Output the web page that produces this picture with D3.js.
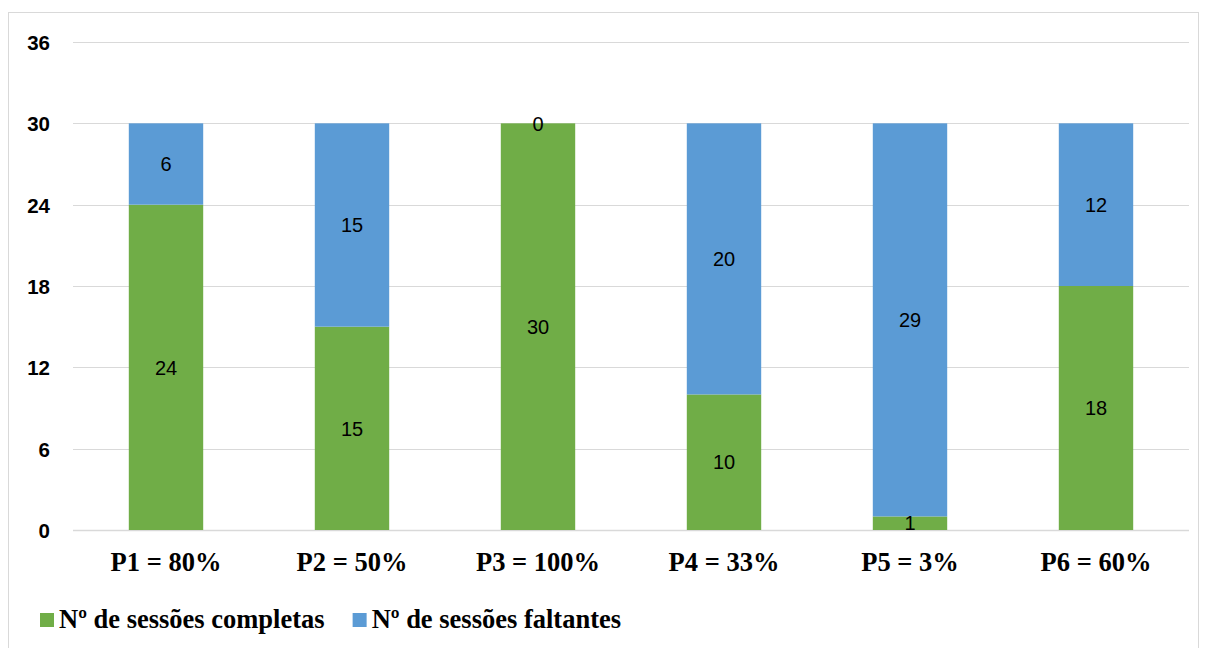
<!DOCTYPE html>
<html>
<head>
<meta charset="utf-8">
<script src="https://cdn.jsdelivr.net/npm/d3@7"></script>
<style>
  html, body { margin: 0; padding: 0; background: #fff; }
  svg { display: block; }
</style>
</head>
<body>
<svg id="chart" width="1206" height="648"></svg>
<script>
// Participants and their completion rates
const categories = ["P1 = 80%", "P2 = 50%", "P3 = 100%", "P4 = 33%", "P5 = 3%", "P6 = 60%"];
// Sessions completed / sessions missing (out of 30)
const completas = [24, 15, 30, 10, 1, 18];
const faltantes = [6, 15, 0, 20, 29, 12];
const yTicks = [0, 6, 12, 18, 24, 30, 36];
const seriesNames = ["Nº de sessões completas", "Nº de sessões faltantes"];
const seriesColors = ["#70AD47", "#5B9BD5"];

const svg = d3.select("#chart");
const plot = { left: 73, right: 1189, top: 42, bottom: 530 };

// Outer chart frame
svg.append("rect")
  .attr("x", 8.5).attr("y", 12.5)
  .attr("width", 1190).attr("height", 640)
  .attr("fill", "#fff").attr("stroke", "#D9D9D9").attr("stroke-width", 1);

const x = d3.scaleBand()
  .domain(categories)
  .range([plot.left, plot.right])
  .paddingInner(0.6)
  .paddingOuter(0.3);

const y = d3.scaleLinear()
  .domain([0, 36])
  .range([plot.bottom, plot.top]);

// Horizontal gridlines
svg.append("g")
  .selectAll("line")
  .data(yTicks)
  .join("line")
  .attr("x1", plot.left).attr("x2", plot.right)
  .attr("y1", d => Math.round(y(d)) + 0.5)
  .attr("y2", d => Math.round(y(d)) + 0.5)
  .attr("stroke", "#D9D9D9").attr("stroke-width", d => d === 0 ? 1.5 : 1.2);

// Y-axis labels
const yAxis = d3.axisLeft(y).tickValues(yTicks).tickSize(0).tickPadding(0);
const gy = svg.append("g")
  .attr("transform", `translate(50,0)`)
  .call(yAxis);
gy.select(".domain").remove();
gy.selectAll("text")
  .attr("font-family", "'Liberation Sans', Arial, sans-serif")
  .attr("font-weight", "bold")
  .attr("font-size", 20.5)
  .attr("fill", "#000")
  .attr("dy", "0.36em");

// Stack the two series
const rows = categories.map((c, i) => ({ cat: c, completas: completas[i], faltantes: faltantes[i] }));
const stack = d3.stack().keys(["completas", "faltantes"]);
const layers = stack(rows);

const gBars = svg.append("g");
layers.forEach((layer, li) => {
  gBars.append("g")
    .selectAll("rect")
    .data(layer)
    .join("rect")
    .attr("x", d => x(d.data.cat))
    .attr("width", x.bandwidth())
    .attr("y", d => y(d[1]))
    .attr("height", d => y(d[0]) - y(d[1]))
    .attr("fill", seriesColors[li]);
});

// Value labels centred in each segment
layers.forEach((layer, li) => {
  gBars.append("g")
    .selectAll("text")
    .data(layer)
    .join("text")
    .attr("x", d => x(d.data.cat) + x.bandwidth() / 2)
    .attr("y", d => y((d[0] + d[1]) / 2))
    .attr("dy", "0.36em")
    .attr("text-anchor", "middle")
    .attr("font-family", "'Liberation Sans', Arial, sans-serif")
    .attr("font-size", 20)
    .attr("fill", "#000")
    .text(d => d[1] - d[0]);
});

// Category labels
const xAxis = d3.axisBottom(x).tickSize(0).tickPadding(0);
const gx = svg.append("g")
  .attr("transform", `translate(0,${plot.bottom})`)
  .call(xAxis);
gx.select(".domain").remove();
gx.selectAll("text")
  .attr("y", 41)
  .attr("dy", null)
  .attr("font-family", "'Liberation Serif', 'Times New Roman', serif")
  .attr("font-weight", "bold")
  .attr("font-size", 26.5)
  .attr("fill", "#000");

// Legend
const legend = svg.append("g").attr("transform", "translate(40,620)");
let lx = 0;
seriesNames.forEach((name, i) => {
  const g = legend.append("g").attr("transform", `translate(${lx},0)`);
  g.append("rect").attr("x", 0).attr("y", -7).attr("width", 14).attr("height", 14).attr("fill", seriesColors[i]);
  const t = g.append("text")
    .attr("x", 19).attr("y", 8)
    .attr("font-family", "'Liberation Serif', 'Times New Roman', serif")
    .attr("font-weight", "bold")
    .attr("font-size", 26.5)
    .attr("fill", "#000")
    .text(name);
  lx += 19 + t.node().getComputedTextLength() + 28;
});
</script>
</body>
</html>
